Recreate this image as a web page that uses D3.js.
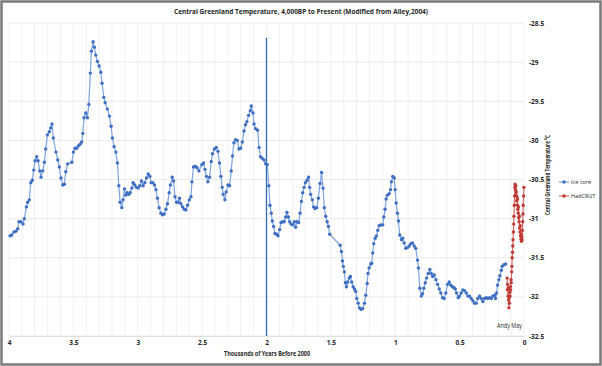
<!DOCTYPE html>
<html><head><meta charset="utf-8">
<script src="https://cdn.jsdelivr.net/npm/d3@7"></script>
<style>
html,body{margin:0;padding:0;background:#fff;}
text{font-family:"Open Sans","Liberation Sans",sans-serif;fill:#262626;}
</style></head>
<body><svg id="c" width="602" height="366"></svg>
<script>
const xTicks = [4,3.5,3,2.5,2,1.5,1,0.5,0];
const xTickLabels = ["4","3.5","3","2.5","2","1.5","1","0.5","0"];
const yTicks = [-28.5,-29,-29.5,-30,-30.5,-31,-31.5,-32,-32.5];
const yTickLabels = ["-28.5","-29","-29.5","-30","-30.5","-31","-31.5","-32","-32.5"];
const seriesNames = ["Ice core","HadCRUT"];
const markerLine = [2];
// [thousands of years before 2000, temperature °C]
const iceCore = [
[3.992,-31.22],[3.979,-31.21],[3.961,-31.17],[3.946,-31.16],[3.932,-31.13],[3.922,-31.04],[3.907,-31.04],[3.891,-31.07],[3.881,-31.00],[3.865,-30.85],
[3.855,-30.79],[3.842,-30.76],[3.831,-30.54],[3.819,-30.51],[3.808,-30.38],[3.798,-30.26],[3.785,-30.21],[3.774,-30.26],[3.761,-30.39],[3.751,-30.47],
[3.738,-30.39],[3.725,-30.28],[3.715,-30.11],[3.702,-29.93],[3.687,-29.89],[3.676,-29.84],[3.666,-29.79],[3.656,-29.97],[3.635,-30.15],[3.621,-30.25],
[3.609,-30.34],[3.596,-30.48],[3.582,-30.57],[3.570,-30.56],[3.559,-30.40],[3.544,-30.30],[3.512,-30.28],[3.500,-30.15],[3.487,-30.10],[3.474,-30.10],
[3.461,-30.07],[3.448,-30.05],[3.435,-30.02],[3.427,-29.91],[3.417,-29.71],[3.404,-29.65],[3.391,-29.71],[3.380,-29.54],[3.368,-29.14],[3.360,-28.86],
[3.347,-28.74],[3.337,-28.81],[3.326,-28.91],[3.313,-28.99],[3.300,-29.05],[3.287,-29.13],[3.277,-29.27],[3.264,-29.45],[3.253,-29.52],[3.236,-29.60],
[3.220,-29.69],[3.207,-29.82],[3.197,-29.97],[3.184,-30.08],[3.170,-30.15],[3.158,-30.29],[3.147,-30.58],[3.137,-30.79],[3.124,-30.86],[3.114,-30.76],
[3.103,-30.62],[3.093,-30.70],[3.082,-30.67],[3.069,-30.69],[3.059,-30.67],[3.046,-30.61],[3.036,-30.54],[3.023,-30.57],[3.010,-30.60],[2.997,-30.61],
[2.984,-30.58],[2.971,-30.52],[2.958,-30.58],[2.945,-30.54],[2.932,-30.48],[2.919,-30.43],[2.906,-30.46],[2.896,-30.54],[2.883,-30.54],[2.870,-30.57],
[2.859,-30.63],[2.847,-30.74],[2.834,-30.86],[2.820,-30.93],[2.808,-30.95],[2.795,-30.94],[2.781,-30.88],[2.769,-30.81],[2.756,-30.67],[2.746,-30.57],
[2.732,-30.47],[2.722,-30.52],[2.711,-30.72],[2.699,-30.79],[2.686,-30.79],[2.676,-30.74],[2.665,-30.81],[2.652,-30.85],[2.639,-30.88],[2.626,-30.89],
[2.613,-30.83],[2.600,-30.76],[2.587,-30.72],[2.579,-30.53],[2.567,-30.34],[2.554,-30.33],[2.540,-30.35],[2.525,-30.39],[2.502,-30.31],[2.489,-30.29],
[2.478,-30.37],[2.466,-30.46],[2.455,-30.53],[2.442,-30.47],[2.429,-30.27],[2.419,-30.17],[2.404,-30.11],[2.390,-30.09],[2.377,-30.14],[2.365,-30.29],
[2.354,-30.46],[2.344,-30.60],[2.336,-30.69],[2.323,-30.76],[2.313,-30.66],[2.299,-30.57],[2.287,-30.58],[2.274,-30.39],[2.264,-30.20],[2.253,-30.03],
[2.240,-29.99],[2.227,-30.00],[2.214,-30.11],[2.201,-30.10],[2.188,-30.02],[2.175,-29.88],[2.163,-29.80],[2.152,-29.76],[2.139,-29.68],[2.126,-29.62],
[2.118,-29.56],[2.105,-29.65],[2.097,-29.79],[2.085,-29.85],[2.069,-29.87],[2.058,-30.09],[2.046,-30.21],[2.033,-30.23],[2.019,-30.25],[2.007,-30.30],
[1.994,-30.31],[1.982,-30.58],[1.973,-30.83],[1.963,-30.93],[1.955,-31.03],[1.945,-31.10],[1.934,-31.19],[1.921,-31.20],[1.910,-31.22],[1.898,-31.14],
[1.887,-31.05],[1.875,-31.04],[1.862,-31.04],[1.851,-30.98],[1.841,-30.92],[1.830,-30.98],[1.820,-31.04],[1.809,-31.07],[1.797,-31.08],[1.784,-31.04],
[1.774,-31.11],[1.763,-31.04],[1.750,-31.05],[1.739,-30.93],[1.729,-30.78],[1.719,-30.67],[1.708,-30.60],[1.698,-30.54],[1.685,-30.51],[1.673,-30.47],
[1.665,-30.60],[1.657,-30.69],[1.644,-30.76],[1.634,-30.85],[1.623,-30.87],[1.610,-30.86],[1.597,-30.74],[1.584,-30.55],[1.572,-30.41],[1.561,-30.61],
[1.551,-30.86],[1.540,-30.97],[1.529,-31.04],[1.519,-31.10],[1.509,-31.20],[1.428,-31.34],[1.418,-31.42],[1.410,-31.54],[1.403,-31.61],[1.395,-31.68],
[1.387,-31.82],[1.379,-31.87],[1.369,-31.81],[1.358,-31.76],[1.348,-31.74],[1.338,-31.81],[1.327,-31.87],[1.317,-31.90],[1.307,-31.93],[1.299,-32.02],
[1.288,-32.08],[1.278,-32.14],[1.265,-32.16],[1.253,-32.15],[1.239,-32.08],[1.229,-31.98],[1.218,-31.83],[1.212,-31.70],[1.203,-31.63],[1.190,-31.58],
[1.183,-31.57],[1.175,-31.44],[1.167,-31.32],[1.156,-31.25],[1.146,-31.22],[1.136,-31.15],[1.125,-31.09],[1.113,-31.08],[1.097,-31.08],[1.089,-30.98],
[1.079,-30.88],[1.071,-30.75],[1.061,-30.70],[1.047,-30.68],[1.037,-30.63],[1.030,-30.53],[1.019,-30.46],[1.008,-30.48],[1.001,-30.63],[0.993,-30.80],
[0.983,-30.93],[0.975,-31.03],[0.965,-31.21],[0.952,-31.27],[0.942,-31.25],[0.931,-31.31],[0.918,-31.38],[0.905,-31.37],[0.892,-31.35],[0.879,-31.32],
[0.866,-31.31],[0.853,-31.35],[0.841,-31.38],[0.827,-31.53],[0.820,-31.63],[0.809,-31.89],[0.798,-31.99],[0.788,-31.96],[0.778,-31.89],[0.767,-31.82],
[0.757,-31.76],[0.744,-31.70],[0.731,-31.65],[0.720,-31.70],[0.710,-31.74],[0.697,-31.72],[0.684,-31.78],[0.671,-31.84],[0.658,-31.90],[0.646,-31.95],
[0.633,-32.01],[0.620,-32.02],[0.607,-31.95],[0.594,-31.84],[0.581,-31.81],[0.568,-31.85],[0.557,-31.87],[0.545,-31.88],[0.534,-31.90],[0.524,-31.95],
[0.511,-32.01],[0.501,-31.99],[0.488,-31.95],[0.475,-31.91],[0.462,-31.92],[0.449,-31.95],[0.436,-31.99],[0.423,-31.99],[0.410,-32.02],[0.397,-32.05],
[0.384,-32.08],[0.371,-32.08],[0.359,-32.02],[0.345,-31.99],[0.332,-32.02],[0.320,-32.06],[0.306,-32.02],[0.293,-32.01],[0.281,-32.02],[0.267,-32.01],
[0.254,-32.02],[0.242,-31.99],[0.229,-31.98],[0.221,-32.02],[0.213,-31.95],[0.205,-31.85],[0.195,-31.78],[0.187,-31.73],[0.176,-31.66],[0.169,-31.61],
[0.156,-31.59],[0.143,-31.58]
];
const hadCRUT = [
[0.131,-31.76],[0.129,-31.91],[0.127,-31.84],[0.124,-31.99],[0.122,-31.89],[0.120,-32.04],[0.117,-32.14],[0.115,-32.01],[0.113,-32.08],[0.110,-31.94],
[0.108,-31.99],[0.106,-31.87],[0.103,-31.91],[0.101,-31.78],[0.099,-31.82],[0.096,-31.68],[0.094,-31.61],[0.092,-31.50],[0.089,-31.43],[0.087,-31.35],
[0.085,-31.27],[0.082,-31.17],[0.080,-31.07],[0.078,-30.97],[0.075,-30.83],[0.073,-30.71],[0.071,-30.60],[0.069,-30.56],[0.066,-30.63],[0.064,-30.58],
[0.062,-30.70],[0.059,-30.66],[0.057,-30.77],[0.055,-30.72],[0.052,-30.83],[0.050,-30.75],[0.048,-30.88],[0.045,-30.93],[0.043,-30.85],[0.041,-30.99],
[0.038,-31.04],[0.036,-30.97],[0.034,-31.12],[0.031,-31.17],[0.029,-31.09],[0.027,-31.22],[0.024,-31.26],[0.022,-31.20],[0.020,-31.29],[0.017,-31.23],
[0.015,-31.27],[0.013,-31.15],[0.010,-31.04],[0.008,-30.94],[0.006,-30.83],[0.003,-30.71],[0.001,-30.60]
];

const W = 602, H = 366;
const svg = d3.select("#c");
const x = d3.scaleLinear().domain([4,0]).range([9,524]);
const y = d3.scaleLinear().domain([-32.5,-28.5]).range([336,23]);

// chart border
svg.append("rect").attr("x",1.5).attr("y",1.5).attr("width",W-3).attr("height",H-3)
  .attr("fill","#fff").attr("stroke","#7a7a7a").attr("stroke-width",2.5);

// gridlines
const g = svg.append("g");
g.selectAll("line.v").data(d3.range(0,41)).join("line")
  .attr("x1",d=>x(d/10)).attr("x2",d=>x(d/10)).attr("y1",y(-28.5)).attr("y2",y(-32.5))
  .attr("stroke","#ededed").attr("stroke-width",0.8);
g.selectAll("line.h").data(yTicks).join("line")
  .attr("x1",x(4)).attr("x2",x(0)).attr("y1",d=>y(d)).attr("y2",d=>y(d))
  .attr("stroke","#e6e6e6").attr("stroke-width",0.8);

// x axis labels
const xa = svg.append("g").attr("transform",`translate(0,${y(-32.5)})`)
  .call(d3.axisBottom(x).tickValues(xTicks).tickFormat((d,i)=>xTickLabels[i]).tickSize(0).tickPadding(4));
xa.select(".domain").attr("stroke","#e0e0e0");
xa.selectAll("text").attr("font-size",6.5).attr("font-weight","bold").attr("fill","#333");

// y axis labels on right
const ya = svg.append("g").attr("transform",`translate(${x(0)+5},0)`)
  .call(d3.axisRight(y).tickValues(yTicks).tickFormat((d,i)=>yTickLabels[i]).tickSize(0).tickPadding(0));
ya.select(".domain").remove();
ya.selectAll("text").attr("font-size",6.5).attr("font-weight","bold").attr("fill","#333");

// vertical marker line at 2 kyr
svg.selectAll("line.mk").data(markerLine).join("line")
  .attr("x1",d=>x(d)).attr("x2",d=>x(d)).attr("y1",38).attr("y2",y(-32.5))
  .attr("stroke","#2e69b3").attr("stroke-width",1.3);

const line = d3.line().x(d=>x(d[0])).y(d=>y(d[1]));
function series(data, lineCol, dotCol){
  svg.append("path").datum(data).attr("d",line).attr("fill","none")
    .attr("stroke",lineCol).attr("stroke-width",1.2);
  svg.append("g").selectAll("circle").data(data).join("circle")
    .attr("cx",d=>x(d[0])).attr("cy",d=>y(d[1])).attr("r",1.7).attr("fill",dotCol);
}
series(iceCore,"#7fa3dc","#3f6fc2");
series(hadCRUT,"#d06a68","#c03a36");

// title
svg.append("text").attr("x",301).attr("y",14).attr("text-anchor","middle")
  .attr("font-size",7.5).attr("font-weight","bold").attr("textLength",254).attr("lengthAdjust","spacingAndGlyphs")
  .text("Central Greenland Temperature, 4,000BP to Present (Modified from Alley,2004)");
// x title
svg.append("text").attr("x",267).attr("y",356).attr("text-anchor","middle")
  .attr("font-size",6.5).attr("font-weight","bold").attr("textLength",86).attr("lengthAdjust","spacingAndGlyphs")
  .text("Thousands of Years Before 2000");
// y title
svg.append("text").attr("transform","translate(550,175) rotate(-90)").attr("text-anchor","middle")
  .attr("font-size",6.5).attr("font-weight","bold").attr("textLength",80).attr("lengthAdjust","spacingAndGlyphs")
  .text("Central Greenland Temperature °C");
// watermark
svg.append("text").attr("x",522).attr("y",328).attr("text-anchor","end")
  .attr("font-size",6.5).attr("fill","#444").attr("textLength",25).attr("lengthAdjust","spacingAndGlyphs").text("Andy May");

// legend
const lg = svg.append("g").selectAll("g").data(seriesNames).join("g")
  .attr("transform",(d,i)=>`translate(559,${182+i*14})`);
lg.append("line").attr("x1",0).attr("x2",10).attr("y1",0).attr("y2",0)
  .attr("stroke",(d,i)=>i?"#d06a68":"#7fa3dc").attr("stroke-width",1.2);
lg.append("circle").attr("cx",5).attr("cy",0).attr("r",1.7).attr("fill",(d,i)=>i?"#c03a36":"#3f6fc2");
lg.append("text").attr("x",12).attr("y",2).attr("font-size",5.5).attr("fill","#333").text(d=>d);
</script></body></html>
